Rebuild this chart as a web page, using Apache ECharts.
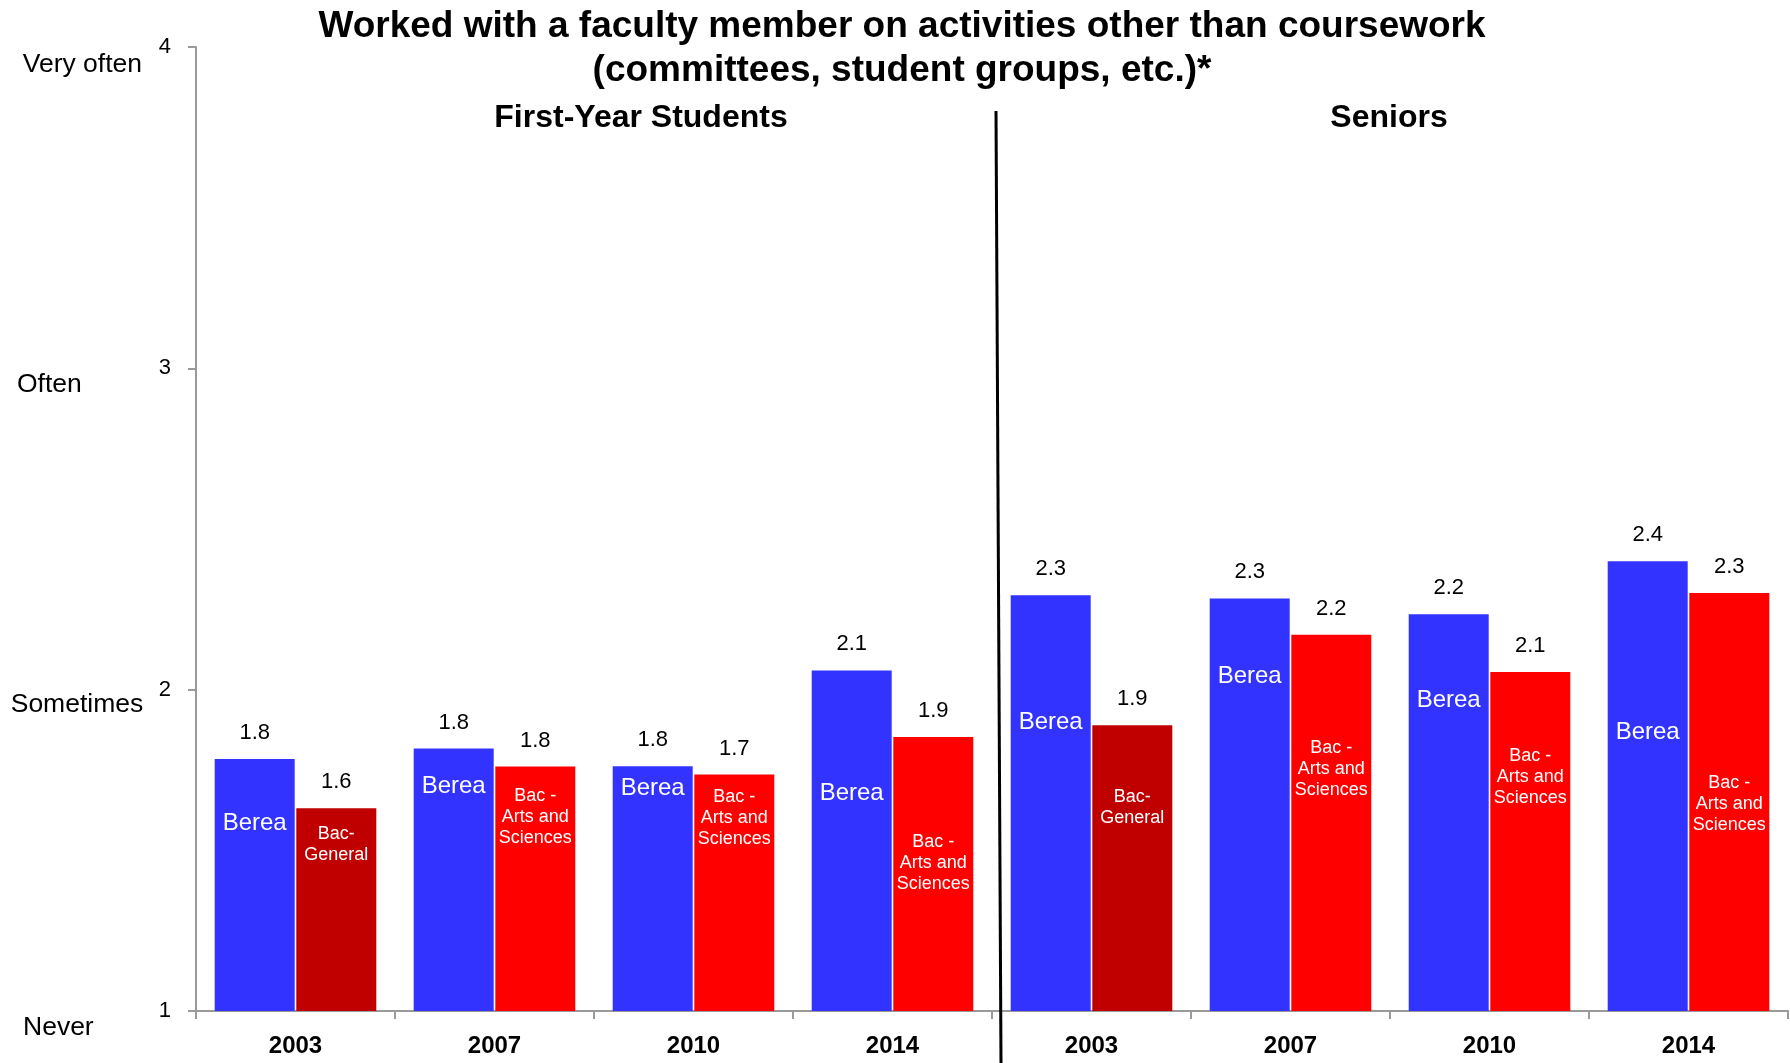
<!DOCTYPE html>
<html>
<head>
<meta charset="utf-8">
<script src="https://cdn.jsdelivr.net/npm/echarts@6/dist/echarts.min.js"></script>
<style>
html,body{margin:0;padding:0;background:#ffffff;}
#chart{width:1790px;height:1063px;}
</style>
</head>
<body>
<div id="chart"></div>
<script>
// ---------------- data ----------------
const titleLines = ['Worked with a faculty member on activities other than coursework', '(committees, student groups, etc.)*'];
const groupNames = ['First-Year Students', 'Seniors'];
const years = ['2003', '2007', '2010', '2014', '2003', '2007', '2010', '2014'];
const bereaName = 'Berea';
const bereaValues = [1.784, 1.817, 1.762, 2.060, 2.294, 2.284, 2.235, 2.400];
const comparisonNames = ['Bac-\nGeneral', 'Bac -\nArts and\nSciences', 'Bac -\nArts and\nSciences', 'Bac -\nArts and\nSciences',
                         'Bac-\nGeneral', 'Bac -\nArts and\nSciences', 'Bac -\nArts and\nSciences', 'Bac -\nArts and\nSciences'];
const comparisonValues = [1.631, 1.761, 1.736, 1.853, 1.889, 2.171, 2.055, 2.301];
const yTickValues = [1, 2, 3, 4];
const yTickWords = ['Never', 'Sometimes', 'Often', 'Very often'];

// ---------------- styling (kept apart from data) ----------------
const bereaColor = '#3333FF';
const comparisonColors = { 'Bac-\nGeneral': '#C00000', 'Bac -\nArts and\nSciences': '#FF0000' };
// vertical placement of in-bar labels, as a fraction of each bar's height from its top
const bereaInsideLabelFrac = [0.255, 0.144, 0.091, 0.362, 0.307, 0.19, 0.217, 0.38];
const comparisonInsideLabelFrac = [0.18, 0.206, 0.186, 0.459, 0.286, 0.356, 0.311, 0.506];
// small offsets [top, left] of the word labels on the y axis
const wordOffset = [[3, 13], [0, 0.7], [1, 7], [4, 12.7]];

const FONT = '"Liberation Sans", Arial, sans-serif';
const axisGray = '#9a9a9a';
const BAR_W = 80;

const chart = echarts.init(document.getElementById('chart'), null, { renderer: 'canvas' });

function insideItems(values, fracs, colors) {
  return values.map((v, i) => ({
    value: v,
    itemStyle: { color: colors[i] },
    label: { position: ['50%', (fracs[i] * 100).toFixed(1) + '%'] }
  }));
}

const bereaItems = insideItems(bereaValues, bereaInsideLabelFrac, bereaValues.map(() => bereaColor));
const comparisonItems = insideItems(comparisonValues, comparisonInsideLabelFrac, comparisonNames.map(n => comparisonColors[n]));

const valueLabel = (arr) => ({
  show: true,
  position: 'top',
  distance: 15,
  color: '#000',
  fontFamily: FONT,
  fontSize: 22,
  formatter: (p) => arr[p.dataIndex].toFixed(1)
});

const wordRich = {};
yTickWords.forEach((w, i) => {
  wordRich['w' + i] = {
    fontFamily: FONT, fontSize: 26.5, lineHeight: 31, color: '#000',
    padding: [wordOffset[i][0], 0, 0, wordOffset[i][1]]
  };
});

const option = {
  backgroundColor: '#ffffff',
  animation: false,
  title: [
    {
      text: titleLines.join('\n'),
      left: 902, top: 5, padding: 0,
      textAlign: 'center',
      textStyle: { fontFamily: FONT, fontSize: 37, fontWeight: 'bold', color: '#000', lineHeight: 44 }
    },
    {
      text: groupNames[0],
      left: 641, top: 102, padding: 0,
      textAlign: 'center',
      textStyle: { fontFamily: FONT, fontSize: 32, fontWeight: 'bold', color: '#000', lineHeight: 32 }
    },
    {
      text: groupNames[1],
      left: 1389, top: 102, padding: 0,
      textAlign: 'center',
      textStyle: { fontFamily: FONT, fontSize: 32, fontWeight: 'bold', color: '#000', lineHeight: 32 }
    }
  ],
  grid: { left: 196, right: 2, top: 47, bottom: 52, containLabel: false },
  xAxis: {
    type: 'category',
    data: years,
    axisLine: { show: true, lineStyle: { color: axisGray, width: 2 } },
    axisTick: { show: true, length: 8, lineStyle: { color: axisGray, width: 2 } },
    axisLabel: { interval: 0, margin: 23, color: '#000', fontFamily: FONT, fontSize: 24, fontWeight: 'bold' },
    splitLine: { show: false }
  },
  yAxis: [
    {
      type: 'value',
      min: yTickValues[0], max: yTickValues[yTickValues.length - 1], interval: 1,
      axisLine: { show: true, lineStyle: { color: axisGray, width: 2 } },
      axisTick: { show: true, length: 8, lineStyle: { color: axisGray, width: 2 } },
      axisLabel: { margin: 25, color: '#000', fontFamily: FONT, fontSize: 22 },
      splitLine: { show: false }
    },
    {
      type: 'value',
      position: 'left',
      min: yTickValues[0], max: yTickValues[yTickValues.length - 1], interval: 1,
      axisLine: { show: false }, axisTick: { show: false }, splitLine: { show: false },
      axisLabel: {
        margin: 186, align: 'left', verticalAlign: 'top',
        color: '#000', fontFamily: FONT, fontSize: 26.5, lineHeight: 31,
        formatter: (v) => {
          const i = yTickValues.indexOf(v);
          return i < 0 ? '' : '{w' + i + '|' + yTickWords[i] + '}';
        },
        rich: wordRich
      }
    }
  ],
  series: [
    {
      name: bereaName, type: 'bar', stack: 'berea', barWidth: BAR_W,
      data: bereaItems,
      label: {
        show: true, align: 'center', verticalAlign: 'middle',
        color: '#fff', fontFamily: FONT, fontSize: 24,
        formatter: () => bereaName
      }
    },
    {
      name: bereaName + ' value', type: 'bar', stack: 'berea', barWidth: BAR_W,
      data: bereaValues.map(() => 0),
      itemStyle: { color: 'rgba(0,0,0,0)' },
      label: valueLabel(bereaValues)
    },
    {
      name: 'Comparison', type: 'bar', stack: 'comp', barWidth: BAR_W,
      data: comparisonItems,
      label: {
        show: true, align: 'center', verticalAlign: 'middle',
        color: '#fff', fontFamily: FONT, fontSize: 18, lineHeight: 21,
        formatter: (p) => comparisonNames[p.dataIndex]
      }
    },
    {
      name: 'Comparison value', type: 'bar', stack: 'comp', barWidth: BAR_W, barGap: '2%',
      data: comparisonValues.map(() => 0),
      itemStyle: { color: 'rgba(0,0,0,0)' },
      label: valueLabel(comparisonValues)
    }
  ]
};

chart.setOption(option);

// divider between the two groups, at the category boundary between index 3 and 4
const xa = chart.convertToPixel({ xAxisIndex: 0 }, 3);
const xb = chart.convertToPixel({ xAxisIndex: 0 }, 4);
const xMid = (xa + xb) / 2;
chart.setOption({
  graphic: [{
    type: 'line',
    shape: { x1: xMid + 4, y1: 111, x2: xMid + 9, y2: 1063 },
    style: { stroke: '#000', lineWidth: 3 },
    z: 100
  }]
});
</script>
</body>
</html>
